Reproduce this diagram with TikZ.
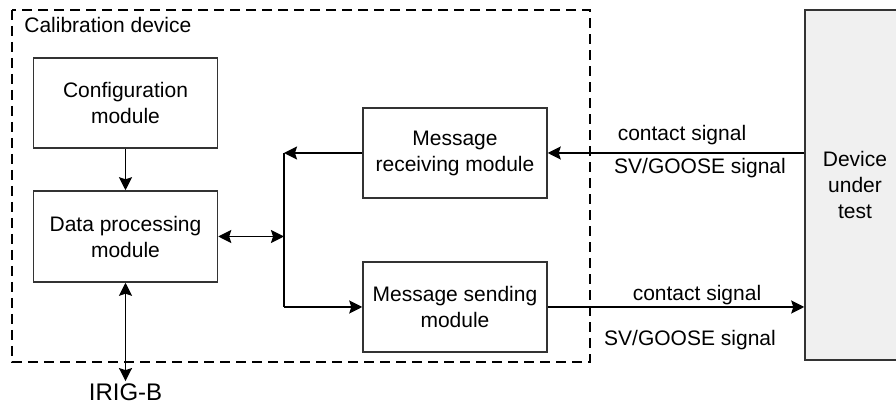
\documentclass[tikz,border=0pt]{standalone}
\usepackage{fontspec}
\setmainfont{Liberation Sans}
\usetikzlibrary{arrows.meta, positioning}

\begin{document}
\begin{tikzpicture}[x=0.5pt, y=-0.5pt,
  font=\fontsize{10.5}{13}\selectfont,
  module/.style={draw=black!80, line width=0.75pt, align=center,
    minimum width=92pt, minimum height=45pt, inner sep=2pt},
  sig/.style={line width=0.85pt, -{Stealth[length=6.5pt, width=6.5pt, inset=1pt]}},
  dsig/.style={line width=0.85pt, {Stealth[length=6.5pt, width=6.5pt, inset=1pt]}-{Stealth[length=6.5pt, width=6.5pt, inset=1pt]}}]
  % page frame 896 x 405 px
  \clip (0,0) rectangle (896,405);
  % calibration device frame
  \draw[line width=0.8pt, dash pattern=on 5pt off 3pt] (12,10) rectangle (590,362);
  \node[anchor=west, inner sep=0pt] (calib) at (24,25) {Calibration device};
  % modules
  \node[module] (config) at (125.5,103) {Configuration\\module};
  \node[module, minimum height=45.5pt] (data) at (125.5,236.5) {Data processing\\module};
  \node[module] (recv) at (455,153) {Message\\receiving module};
  \node[module] (send) at (455,307) {Message sending\\module};
  % device under test (cut by the page edge)
  \node[draw=black!80, fill=black!6, line width=0.75pt, align=center,
    minimum width=50pt, minimum height=175pt, inner sep=0pt] (dut) at (855,185) {Device\\under\\test};
  % bus junction
  \coordinate (jtop) at (284,153);
  \coordinate (jmid) at (284,236.5);
  \coordinate (jbot) at (284,307);
  \draw[sig] (config) -- (data);
  \draw[dsig] (data.east) -- (jmid);
  \draw[sig] (recv.west) -- (jtop);
  \draw[line width=0.85pt] (jtop) -- (jbot);
  \draw[sig] (jbot) -- (send.west);
  % signals to and from the device
  \draw[sig] (dut.west |- recv.east) -- (recv.east);
  \draw[sig] (send.east) -- (dut.west |- send.east);
  \node (rxc) at (682,135) {contact signal};
  \node (rxs) at (700,168) {SV/GOOSE signal};
  \node (txc) at (697,295) {contact signal};
  \node (txs) at (690,340) {SV/GOOSE signal};
  % time input
  \node[font=\fontsize{12}{14}\selectfont, inner sep=1pt] (irig) at (125.5,392) {IRIG-B};
  \draw[dsig] (data.south) -- (irig.north);
\end{tikzpicture}
\end{document}
